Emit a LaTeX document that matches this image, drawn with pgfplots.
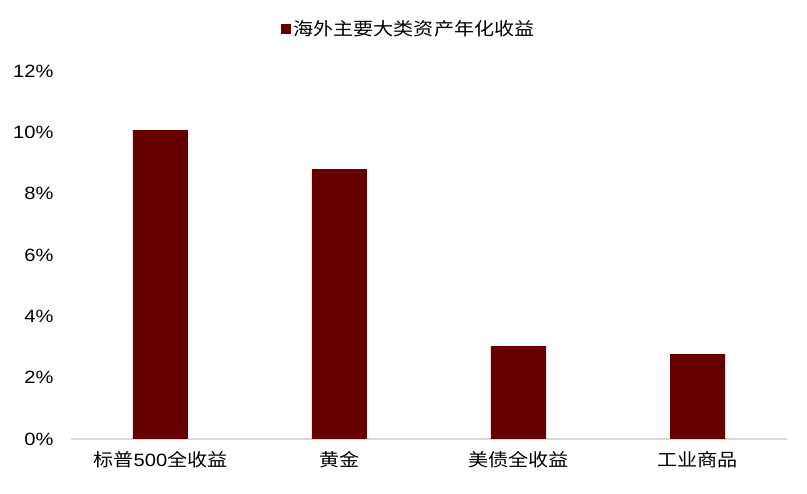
\documentclass[border=0pt]{standalone}
\usepackage{fontspec}
\setmainfont[FakeStretch=1.13]{Liberation Sans}
\newfontfamily\cjk[FakeStretch=1.13]{Noto Sans CJK SC}
\usepackage{pgfplots}
\pgfplotsset{compat=1.18}
\definecolor{barred}{HTML}{660000}
\definecolor{axgray}{HTML}{D9D9D9}
\begin{document}
\begin{tikzpicture}
\useasboundingbox (-71pt,-55pt) rectangle (736pt,439pt);
\begin{axis}[
  at={(0pt,0pt)}, anchor=south west,
  scale only axis,
  width=716pt, height=368pt,
  xmin=-0.5, xmax=3.5,
  ymin=0, ymax=12,
  ytick={0,2,4,6,8,10,12},
  yticklabel={\pgfmathprintnumber{\tick}\%},
  /pgf/number format/assume math mode=true,
  xtick={0,1,2,3},
  xticklabels={{\cjk 标普}500{\cjk 全收益},{\cjk 黄金},{\cjk 美债全收益},{\cjk 工业商品}},
  tick style={draw=none},
  axis y line*=left,
  y axis line style={draw=none},
  axis x line*=bottom,
  x axis line style={draw=axgray, line width=1.2pt, -},
  ticklabel style={font=\fontsize{17.8}{21}\selectfont},
  yticklabel style={anchor=east, xshift=-14pt},
  xticklabel style={anchor=center, yshift=-16pt},
  ybar, bar width=55pt,
  legend style={draw=none, at={(0.472,1.114)}, anchor=center,
    font=\fontsize{17.8}{21}\selectfont\cjk, inner sep=0pt},
  legend image code/.code={\fill[barred] (0pt,-5pt) rectangle (10pt,5pt);},
  legend cell align=left,
]
\addplot[fill=barred, draw=none] coordinates {(0,10.07) (1,8.80) (2,3.03) (3,2.77)};
\addlegendentry{海外主要大类资产年化收益}
\end{axis}
\end{tikzpicture}
\end{document}
